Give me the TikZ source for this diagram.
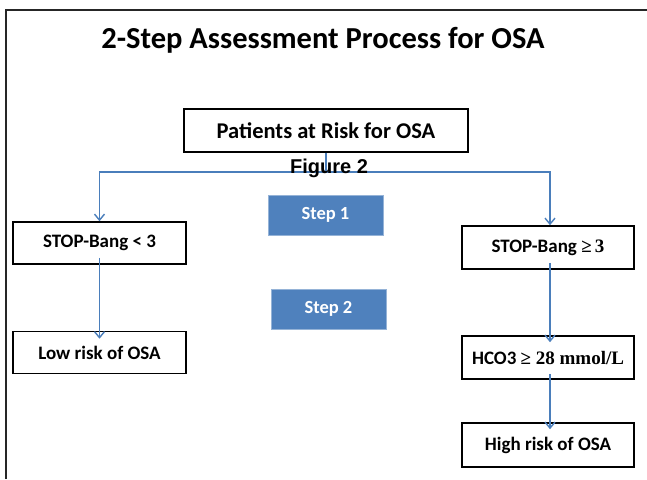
\documentclass[tikz,border=0pt]{standalone}
\usepackage{fontspec}
\setmainfont{Carlito}
\newfontfamily\figfont{Liberation Sans}
\newfontfamily\serfont{Liberation Serif}
\usetikzlibrary{arrows.meta}
\definecolor{lineblue}{HTML}{4A7EBB}
\definecolor{stepblue}{HTML}{4F81BD}
\tikzset{
  x=1pt,y=-1pt,
  wbox/.style={draw=black,line width=1.6pt,fill=white,minimum width=173pt,minimum height=42pt,inner sep=0pt,font=\fontsize{19}{22}\selectfont\bfseries},
  stepbox/.style={fill=stepblue,draw=stepblue!60!white,line width=0.5pt,minimum width=115pt,minimum height=40pt,inner sep=0pt,text=white,font=\fontsize{18.5}{21}\selectfont\bfseries},
  conn/.style={draw=lineblue,line width=1.5pt},
  arr/.style={conn,-{Straight Barb[length=6pt,width=10pt,line width=1.4pt]}},
}
\newcommand{\ser}[1]{{\serfont\bfseries #1}}
\begin{document}
\begin{tikzpicture}
\useasboundingbox (0,0) rectangle (647,479);
\draw[line width=1.6pt,draw=black!85] (6,479) -- (6,10) -- (647,10);
\node[anchor=base,inner sep=0pt] (title) at (323,48) {\fontsize{30.5}{34}\selectfont\bfseries 2-Step Assessment Process for OSA};
\node[wbox,minimum width=284pt,minimum height=43pt,font=\fontsize{22.5}{26}\selectfont\bfseries] (pat) at (326,130.5) {Patients at Risk for OSA};
\coordinate (j) at (326,172);
\draw[conn] (pat.south) -- (j);
\node[wbox] (sbl) at (99.5,243) {STOP-Bang < 3};
\node[wbox] (low) at (99.5,352.5) {Low risk of OSA};
\node[wbox,minimum width=172pt,minimum height=43pt] (sbr) at (548,247.5) {STOP-Bang \ser{≥\,3}};
\node[wbox,minimum width=172pt,minimum height=43pt] (hco) at (548,357.5) {HCO3 \ser{≥ 28 mmol/L}};
\node[wbox,minimum width=172pt,minimum height=44pt] (high) at (548,445) {High risk of OSA};
\node[stepbox] (s1) at (325.5,215) {Step 1};
\node[stepbox] (s2) at (328.5,309) {Step 2};
\draw[arr] (j) -| (sbl.north);
\draw[arr] (j) -| ([xshift=2pt]sbr.north);
\draw[arr] ([yshift=7pt]sbl.south) -- ([yshift=-8pt]low.north);
\draw[arr] ([xshift=2pt,yshift=7pt]sbr.south) -- ([xshift=2pt,yshift=-7pt]hco.north);
\draw[arr] ([xshift=2pt,yshift=6pt]hco.south) -- ([xshift=2pt,yshift=-7pt]high.north);
\node[anchor=base,inner sep=0pt,font=\figfont\fontsize{20}{22}\selectfont\bfseries] (fig) at (329,173) {Figure 2};
\end{tikzpicture}
\end{document}
